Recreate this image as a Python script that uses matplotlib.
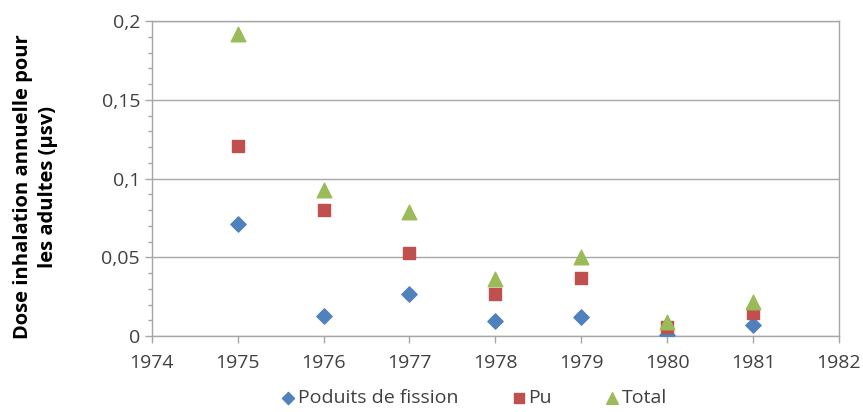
import matplotlib
matplotlib.use("Agg")
import matplotlib.pyplot as plt
from matplotlib.ticker import FuncFormatter, MultipleLocator

years = [1975, 1976, 1977, 1978, 1979, 1980, 1981]
fission = [0.071, 0.013, 0.027, 0.0095, 0.012, 0.001, 0.007]
pu = [0.121, 0.080, 0.053, 0.027, 0.037, 0.006, 0.015]
total = [0.192, 0.093, 0.079, 0.036, 0.050, 0.009, 0.022]
labels = ["Poduits de fission", "Pu", "Total"]

plt.rcParams['font.family'] = ['Open Sans', 'DejaVu Sans']

fig = plt.figure(figsize=(8.63, 4.12), dpi=100)
ax = fig.add_axes([0.176, 0.184, 0.796, 0.765])

ax.scatter(years, fission, marker='D', s=60, color='#4F81BD', label=labels[0], zorder=3)
ax.scatter(years, pu, marker='s', s=75, color='#C0504D', label=labels[1], zorder=3)
ax.scatter(years, total, marker='^', s=110, color='#9BBB59', label=labels[2], zorder=3)

ax.set_xlim(1974, 1982)
ax.set_ylim(0, 0.2)
ax.xaxis.set_major_locator(MultipleLocator(1))
ax.yaxis.set_major_locator(MultipleLocator(0.05))
ax.yaxis.set_minor_locator(MultipleLocator(0.01))

def fmt(v, pos):
    s = ('%.2f' % v).rstrip('0').rstrip('.')
    return s.replace('.', ',')
ax.yaxis.set_major_formatter(FuncFormatter(fmt))
ax.xaxis.set_major_formatter(FuncFormatter(lambda v, p: '%d' % v))

ax.grid(axis='y', which='major', color='#A6A6A6', linewidth=1.0, zorder=0)
for sp in ax.spines.values():
    sp.set_color('#A6A6A6')
    sp.set_linewidth(1.0)

ax.tick_params(axis='both', which='major', labelsize=14, colors='#A6A6A6', labelcolor='#404040', length=5, width=1)
ax.tick_params(axis='y', which='minor', colors='#A6A6A6', length=3, width=1)
ax.tick_params(axis='y', which='both', direction='out')
ax.tick_params(axis='x', pad=8)

fig.text(0.041, 0.546, "Dose inhalation annuelle pour\nles adultes (µsv)", rotation=90,
         ha='center', va='center', fontsize=14.5, fontweight='bold', color='black',
         linespacing=1.32)

fig.legend(loc='center', bbox_to_anchor=(0.549, 0.034), ncol=3, frameon=False,
           fontsize=14, handlelength=0.8, handletextpad=0.1, columnspacing=2.7,
           markerscale=0.8, labelcolor='#404040', borderpad=0)

fig.savefig("out.png", dpi=100)
